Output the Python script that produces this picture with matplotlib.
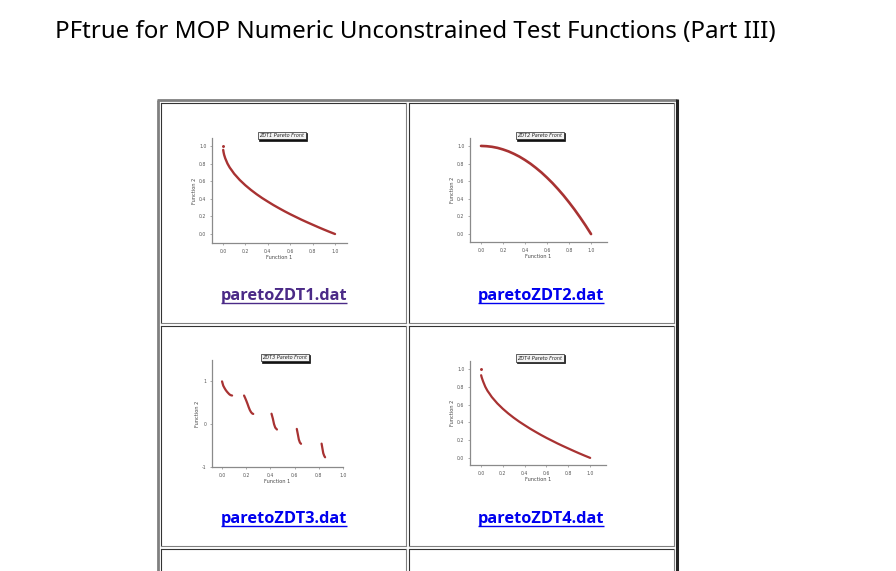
import matplotlib
matplotlib.use('Agg')
import matplotlib.pyplot as plt
from matplotlib.transforms import offset_copy

W, H = 896, 571

# page title and file links
page_title = 'PFtrue for MOP Numeric Unconstrained Test Functions (Part III)'
links = ['paretoZDT1.dat', 'paretoZDT2.dat', 'paretoZDT3.dat', 'paretoZDT4.dat']
plot_titles = ['ZDT1 Pareto Front', 'ZDT2 Pareto Front', 'ZDT3 Pareto Front', 'ZDT4 Pareto Front']

# ZDT1 front
zdt1_f1 = [0.002, 0.005, 0.01, 0.02, 0.03, 0.04, 0.06, 0.08, 0.1, 0.15, 0.2, 0.25, 0.3, 0.35, 0.4,
           0.45, 0.5, 0.55, 0.6, 0.65, 0.7, 0.75, 0.8, 0.85, 0.9, 0.95, 1.0]
zdt1_f2 = [0.955, 0.93, 0.90, 0.86, 0.83, 0.80, 0.755, 0.72, 0.684, 0.613, 0.553, 0.50, 0.452, 0.408,
           0.368, 0.329, 0.293, 0.258, 0.225, 0.194, 0.163, 0.134, 0.106, 0.078, 0.051, 0.025, 0.0]
zdt1_dot = ([0.0], [1.0])

# ZDT2 front
zdt2_f1 = [0.0, 0.05, 0.1, 0.15, 0.2, 0.25, 0.3, 0.35, 0.4, 0.45, 0.5, 0.55, 0.6, 0.65, 0.7, 0.75,
           0.8, 0.85, 0.9, 0.95, 1.0]
zdt2_f2 = [1.0, 0.997, 0.99, 0.978, 0.96, 0.938, 0.91, 0.878, 0.84, 0.798, 0.75, 0.698, 0.64, 0.578,
           0.51, 0.438, 0.36, 0.278, 0.19, 0.098, 0.0]

# ZDT3 front, five disconnected pieces
zdt3_f1 = [[0.0, 0.01, 0.02, 0.03, 0.04, 0.05, 0.06, 0.07, 0.083],
           [0.182, 0.19, 0.2, 0.21, 0.22, 0.23, 0.24, 0.25, 0.258],
           [0.409, 0.42, 0.43, 0.44, 0.454],
           [0.618, 0.627, 0.635, 0.644, 0.653],
           [0.823, 0.83, 0.837, 0.845, 0.852]]
zdt3_f2 = [[1.0, 0.90, 0.847, 0.80, 0.762, 0.73, 0.70, 0.68, 0.67],
           [0.67, 0.62, 0.553, 0.48, 0.40, 0.33, 0.28, 0.25, 0.24],
           [0.245, 0.13, 0.0, -0.08, -0.124],
           [-0.11, -0.24, -0.36, -0.43, -0.458],
           [-0.454, -0.57, -0.68, -0.74, -0.773]]

# ZDT4 front
zdt4_f1 = [0.002, 0.005, 0.01, 0.02, 0.03, 0.04, 0.06, 0.08, 0.1, 0.15, 0.2, 0.25, 0.3, 0.35, 0.4,
           0.45, 0.5, 0.55, 0.6, 0.65, 0.7, 0.75, 0.8, 0.85, 0.9, 0.95, 1.0]
zdt4_f2 = [0.93, 0.915, 0.895, 0.86, 0.83, 0.80, 0.755, 0.72, 0.684, 0.613, 0.553, 0.50, 0.452, 0.408,
           0.368, 0.329, 0.293, 0.258, 0.225, 0.194, 0.163, 0.134, 0.106, 0.078, 0.051, 0.025, 0.0]
zdt4_dot = ([0.0], [1.0])

red = '#a83232'
grey = '#8a8a8a'

fig = plt.figure(figsize=(W / 100, H / 100), dpi=100)
fig.patch.set_facecolor('white')

# page canvas in pixel coordinates
bg = fig.add_axes([0, 0, 1, 1])
bg.set_xlim(0, W)
bg.set_ylim(H, 0)
bg.axis('off')

bg.text(55, 32, page_title, fontsize=17.35, family='Noto Sans', va='center', ha='left', color='black')

# table borders
bg.plot([158, 158], [100, H], color='#808080', lw=2, solid_capstyle='butt')
bg.plot([157, 677], [100, 100], color='#808080', lw=2, solid_capstyle='butt')
bg.plot([677, 677], [99, H], color='#222222', lw=2.2, solid_capstyle='butt')
cells = [(161, 103, 406, 323), (409, 103, 674, 323),
         (161, 326, 406, 546), (409, 326, 674, 546),
         (161, 549, 406, 600), (409, 549, 674, 600)]
for l, t, r, b in cells:
    bg.plot([l, r], [t, t], color='#333333', lw=0.8)
    bg.plot([l, l], [t, b], color='#333333', lw=0.8)
    bg.plot([r, r], [t, b], color='#808080', lw=0.8)
    bg.plot([l, r], [b, b], color='#808080', lw=0.8)


def add_px_axes(l, t, r, b):
    return fig.add_axes([l / W, 1 - b / H, (r - l) / W, (b - t) / H])


def style(ax, xlim, ylim, yticks, ylabels):
    ax.set_xlim(*xlim)
    ax.set_ylim(*ylim)
    for s in ['top', 'right']:
        ax.spines[s].set_visible(False)
    for s in ['left', 'bottom']:
        ax.spines[s].set_color(grey)
        ax.spines[s].set_linewidth(0.9)
    ax.set_xticks([0, 0.2, 0.4, 0.6, 0.8, 1.0])
    ax.set_xticklabels(['0.0', '0.2', '0.4', '0.6', '0.8', '1.0'])
    ax.set_yticks(yticks)
    ax.set_yticklabels(ylabels)
    ax.tick_params(labelsize=3.3, length=1.5, width=0.5, color=grey, labelcolor='#555555', pad=2.5)
    ax.set_xlabel('Function 1', fontsize=3.6, color='#444444', labelpad=1.2)
    ax.set_ylabel('Function 2', fontsize=3.6, color='#444444', labelpad=1.5)
    ax.patch.set_alpha(0)


panels = [
    (212, 138, 347, 243, (-0.098, 1.107), (-0.102, 1.09)),
    (470, 138, 607, 242, (-0.1, 1.145), (-0.09, 1.09)),
    (212, 360, 343, 467, (-0.083, 1.0), (-1.0, 1.5)),
    (470, 361, 606, 465, (-0.1, 1.145), (-0.08, 1.09)),
]
yt01 = [0, 0.2, 0.4, 0.6, 0.8, 1.0]
yl01 = ['0.0', '0.2', '0.4', '0.6', '0.8', '1.0']

axes = []
for l, t, r, b, xl, yl in panels:
    axes.append((add_px_axes(l, t, r, b), xl, yl))

ax, xl, yl = axes[0]
ax.plot(zdt1_f1, zdt1_f2, color=red, lw=1.7, solid_capstyle='round', solid_joinstyle='round')
ax.plot(*zdt1_dot, 'o', color=red, ms=1.1)
style(ax, xl, yl, yt01, yl01)

ax, xl, yl = axes[1]
ax.plot(zdt2_f1, zdt2_f2, color=red, lw=1.9, solid_capstyle='round', solid_joinstyle='round')
style(ax, xl, yl, yt01, yl01)

ax, xl, yl = axes[2]
for xs, ys in zip(zdt3_f1, zdt3_f2):
    ax.plot(xs, ys, color=red, lw=1.6, solid_capstyle='round', solid_joinstyle='round')
style(ax, xl, yl, [-1, 0, 1], ['-1', '0', '1'])

ax, xl, yl = axes[3]
ax.plot(zdt4_f1, zdt4_f2, color=red, lw=1.6, solid_capstyle='round', solid_joinstyle='round')
ax.plot(*zdt4_dot, 'o', color=red, ms=1.1)
style(ax, xl, yl, yt01, yl01)

# small boxed titles with a dark drop shadow
title_pos = [(282, 135.5), (540, 135.5), (285, 357.5), (540, 358)]
for (x, y), txt in zip(title_pos, plot_titles):
    sh = offset_copy(bg.transData, fig=fig, x=1.3, y=-1.3, units='dots')
    bg.text(x, y, txt, transform=sh, fontsize=3.5, style='italic', ha='center', va='center',
            color='#111111', bbox=dict(boxstyle='square,pad=0.3', fc='#111111', ec='#111111', lw=0.5))
    bg.text(x, y, txt, fontsize=3.5, style='italic', ha='center', va='center', color='#222222',
            bbox=dict(boxstyle='square,pad=0.3', fc='#f2f2f2', ec='#222222', lw=0.5))

# file links, bold and underlined
link_pos = [(284, 296), (541, 296), (284, 519), (541, 519)]
link_col = ['#4b2a87', '#0000ee', '#0000ee', '#0000ee']
link_texts = []
for (x, y), txt, c in zip(link_pos, links, link_col):
    link_texts.append(bg.text(x, y, txt, fontsize=11.8, family=['Open Sans', 'DejaVu Sans'],
                              fontweight='bold', ha='center', va='center', color=c))

fig.canvas.draw()
inv = bg.transData.inverted()
for t, c, (x, y) in zip(link_texts, link_col, link_pos):
    bb = t.get_window_extent()
    x0, _ = inv.transform((bb.x0, bb.y0))
    x1, _ = inv.transform((bb.x1, bb.y0))
    bg.plot([x0, x1], [y + 7, y + 7], color=c, lw=1.0, solid_capstyle='butt')

fig.savefig('out.png', dpi=100, facecolor='white')
